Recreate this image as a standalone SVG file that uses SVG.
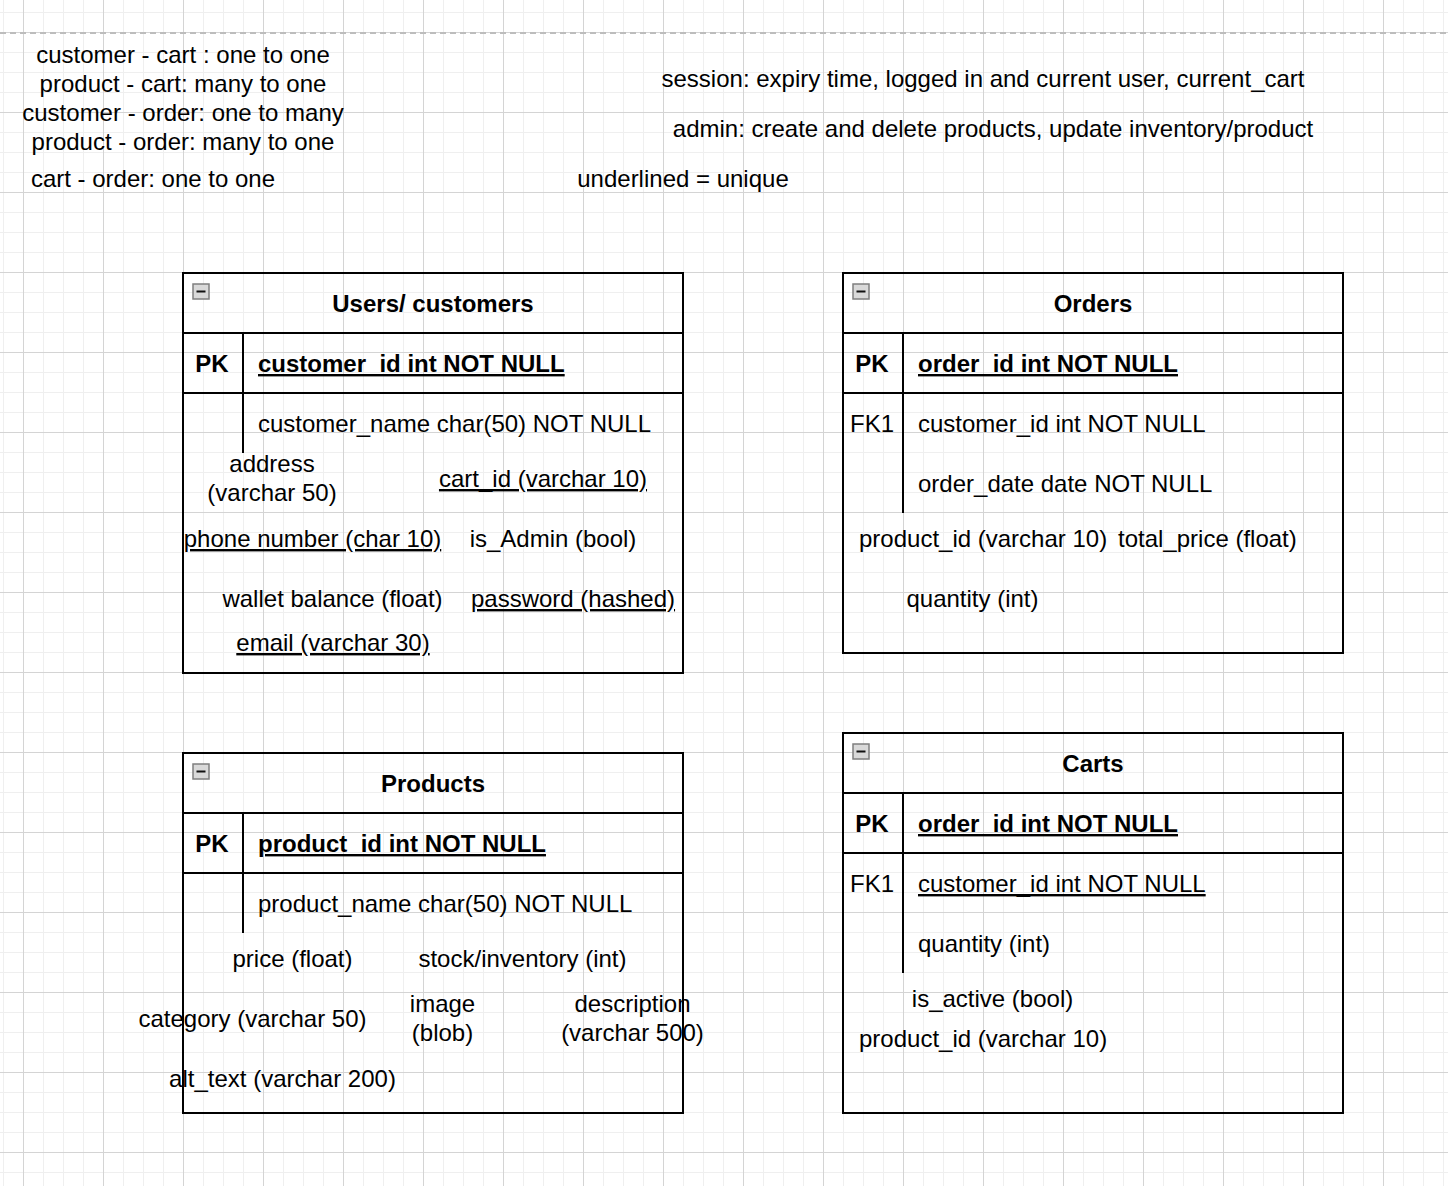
<svg xmlns="http://www.w3.org/2000/svg" width="1448" height="1186" viewBox="0 0 1448 1186">
  <style>
    text { font-family: "Liberation Sans", Arial, Helvetica, sans-serif; font-size: 24px; fill: #000; }
    .c { text-anchor: middle; }
    .b { font-weight: bold; }
    .u { text-decoration: underline; }
    .box { fill: none; stroke: #000; stroke-width: 2; }
    .ln { stroke: #000; stroke-width: 2; fill: none; }
    .fold { fill: #d9d9d9; stroke: #7f7f7f; stroke-width: 1.5; }
    .minus { stroke: #111; stroke-width: 2; }
  </style>
  <defs>
    <!-- background grid: thin lines every 20px, stronger every 80px -->
    <pattern id="gridMinor" x="3" y="12" width="20" height="20" patternUnits="userSpaceOnUse">
      <rect x="0" y="0" width="1" height="20" fill="#efefef"/>
      <rect x="0" y="0" width="20" height="1" fill="#efefef"/>
    </pattern>
    <pattern id="gridMajor" x="23" y="32" width="80" height="80" patternUnits="userSpaceOnUse">
      <rect x="0" y="0" width="1" height="80" fill="#d4d4d4"/>
      <rect x="0" y="0" width="80" height="1" fill="#d4d4d4"/>
    </pattern>
    <!-- collapse toggle shown at the top-left of each table -->
    <g id="fold">
      <rect class="fold" x="0" y="0" width="16" height="15"/>
      <line class="minus" x1="3.5" y1="7.5" x2="12.5" y2="7.5"/>
    </g>
  </defs>

  <rect width="1448" height="1186" fill="#fff"/>
  <rect width="1448" height="1186" fill="url(#gridMinor)"/>
  <rect width="1448" height="1186" fill="url(#gridMajor)"/>

  <!-- page break -->
  <line x1="0" y1="33" x2="1448" y2="33" stroke="#bdbdbd" stroke-width="2" stroke-dasharray="6 4"/>

  <!-- notes -->
  <g id="relationships-note">
    <text class="c" x="183" y="63">customer - cart : one to one</text>
    <text class="c" x="183" y="92">product - cart: many to one</text>
    <text class="c" x="183" y="121">customer - order: one to many</text>
    <text class="c" x="183" y="150">product - order: many to one</text>
    <text class="c" x="153" y="187">cart - order: one to one</text>
  </g>
  <g id="session-note">
    <text class="c" x="983" y="87">session: expiry time, logged in and current user, current_cart</text>
  </g>
  <g id="admin-note">
    <text class="c" x="993" y="137">admin: create and delete products, update inventory/product</text>
  </g>
  <g id="legend-note">
    <text class="c" x="683" y="187">underlined = unique</text>
  </g>

  <!-- Users / customers -->
  <g id="users">
    <rect class="box" x="183" y="273" width="500" height="400"/>
    <use href="#fold" x="193" y="284"/>
    <text class="c b" x="433" y="312">Users/ customers</text>
    <line class="ln" x1="183" y1="333" x2="683" y2="333"/>
    <line class="ln" x1="183" y1="393" x2="683" y2="393"/>
    <line class="ln" x1="243" y1="333" x2="243" y2="453"/>
    <text class="c b" x="212" y="372">PK</text>
    <text class="b u" x="258" y="372">customer_id int NOT NULL</text>
    <text x="258" y="432">customer_name char(50) NOT NULL</text>
    <text class="c" x="272" y="472">address</text>
    <text class="c" x="272" y="501">(varchar 50)</text>
    <text class="c u" x="543" y="487">cart_id (varchar 10)</text>
    <text class="c u" x="312.5" y="547">phone number (char 10)</text>
    <text class="c" x="553" y="547">is_Admin (bool)</text>
    <text class="c" x="332.5" y="607">wallet balance (float)</text>
    <text class="c u" x="573" y="607">password (hashed)</text>
    <text class="c u" x="333" y="651">email (varchar 30)</text>
  </g>

  <!-- Orders -->
  <g id="orders">
    <rect class="box" x="843" y="273" width="500" height="380"/>
    <use href="#fold" x="853" y="284"/>
    <text class="c b" x="1093" y="312">Orders</text>
    <line class="ln" x1="843" y1="333" x2="1343" y2="333"/>
    <line class="ln" x1="843" y1="393" x2="1343" y2="393"/>
    <line class="ln" x1="903" y1="333" x2="903" y2="513"/>
    <text class="c b" x="872" y="372">PK</text>
    <text class="b u" x="918" y="372">order_id int NOT NULL</text>
    <text class="c" x="872" y="432">FK1</text>
    <text x="918" y="432">customer_id int NOT NULL</text>
    <text x="918" y="492">order_date date NOT NULL</text>
    <text x="859" y="547">product_id (varchar 10)</text>
    <text x="1118" y="547">total_price (float)</text>
    <text class="c" x="972.5" y="607">quantity (int)</text>
  </g>

  <!-- Products -->
  <g id="products">
    <rect class="box" x="183" y="753" width="500" height="360"/>
    <use href="#fold" x="193" y="764"/>
    <text class="c b" x="433" y="792">Products</text>
    <line class="ln" x1="183" y1="813" x2="683" y2="813"/>
    <line class="ln" x1="183" y1="873" x2="683" y2="873"/>
    <line class="ln" x1="243" y1="813" x2="243" y2="933"/>
    <text class="c b" x="212" y="852">PK</text>
    <text class="b u" x="258" y="852">product_id int NOT NULL</text>
    <text x="258" y="912">product_name char(50) NOT NULL</text>
    <text class="c" x="292.5" y="967">price (float)</text>
    <text class="c" x="522.5" y="967">stock/inventory (int)</text>
    <text class="c" x="252.5" y="1027">category (varchar 50)</text>
    <text class="c" x="442.5" y="1012">image</text>
    <text class="c" x="442.5" y="1041">(blob)</text>
    <text class="c" x="632.5" y="1012">description</text>
    <text class="c" x="632.5" y="1041">(varchar 500)</text>
    <text class="c" x="282.5" y="1087">alt_text (varchar 200)</text>
  </g>

  <!-- Carts -->
  <g id="carts">
    <rect class="box" x="843" y="733" width="500" height="380"/>
    <use href="#fold" x="853" y="744"/>
    <text class="c b" x="1093" y="772">Carts</text>
    <line class="ln" x1="843" y1="793" x2="1343" y2="793"/>
    <line class="ln" x1="843" y1="853" x2="1343" y2="853"/>
    <line class="ln" x1="903" y1="793" x2="903" y2="973"/>
    <text class="c b" x="872" y="832">PK</text>
    <text class="b u" x="918" y="832">order_id int NOT NULL</text>
    <text class="c" x="872" y="892">FK1</text>
    <text class="u" x="918" y="892">customer_id int NOT NULL</text>
    <text x="918" y="952">quantity (int)</text>
    <text class="c" x="992.5" y="1007">is_active (bool)</text>
    <text x="859" y="1047">product_id (varchar 10)</text>
  </g>

  <!-- relationships are listed in the notes; no connectors drawn -->
  <g id="connectors"/>
</svg>
